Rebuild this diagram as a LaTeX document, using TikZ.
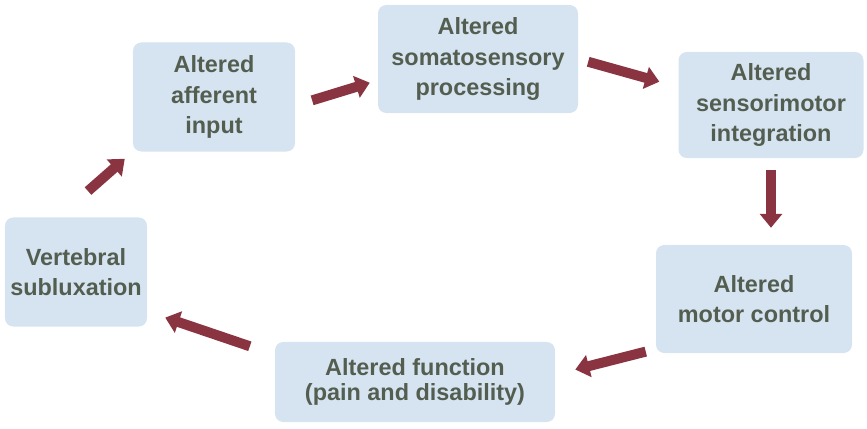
\documentclass[tikz,border=0pt]{standalone}
\usepackage{fontspec}
\setmainfont{Liberation Sans}
\usetikzlibrary{arrows.meta}
\definecolor{boxblue}{RGB}{214,228,241}
\definecolor{labelgray}{RGB}{84,94,80}
\definecolor{arrowred}{RGB}{138,52,66}
\begin{document}
\begin{tikzpicture}[
  x=0.03cm, y=-0.03cm,
  block/.style={rectangle, rounded corners=0.25cm, fill=boxblue, text=labelgray, font=\bfseries\fontsize{20}{26}\selectfont, align=center, inner sep=0pt},
  flow/.style={arrowred, line width=0.3cm, -{Triangle[width=0.66cm,length=0.42cm]}}
]
\useasboundingbox (0,0) rectangle (867,429);

\node[block, minimum width=4.86cm, minimum height=3.27cm] (aff) at (214,97) {Altered\\afferent\\input};
\node[block, minimum width=6.0cm, minimum height=3.24cm] (somato) at (478,59) {Altered\\somatosensory\\processing};
\node[block, minimum width=5.55cm, minimum height=3.18cm] (sensori) at (771,105) {Altered\\sensorimotor\\integration};
\node[block, minimum width=5.88cm, minimum height=3.24cm] (motor) at (754,299) {Altered\\motor control};
\node[block, minimum width=8.4cm, minimum height=2.4cm, font=\bfseries\fontsize{20}{22}\selectfont] (func) at (415,382) {Altered function\\(pain and disability)};
\node[block, minimum width=4.26cm, minimum height=3.27cm] (vert) at (76,272) {Vertebral\\subluxation};

\draw[flow, shorten <=1.19cm, shorten >=0.32cm] (vert.108) -- (aff.south west);
\draw[flow, shorten <=0.53cm, shorten >=0.25cm] (aff.-6) -- (somato.192);
\draw[flow, shorten <=0.31cm, shorten >=0.59cm] (somato.east) -- (sensori.169);
\draw[flow, shorten <=0.36cm, shorten >=0.51cm] (sensori.south) -- (sensori.south |- motor.north);
\draw[flow, shorten <=0.31cm, shorten >=0.62cm] (motor.207) -- (func.3);
\draw[flow, shorten <=0.79cm, shorten >=0.57cm] (func.169) -- (vert.-29);
\end{tikzpicture}
\end{document}
